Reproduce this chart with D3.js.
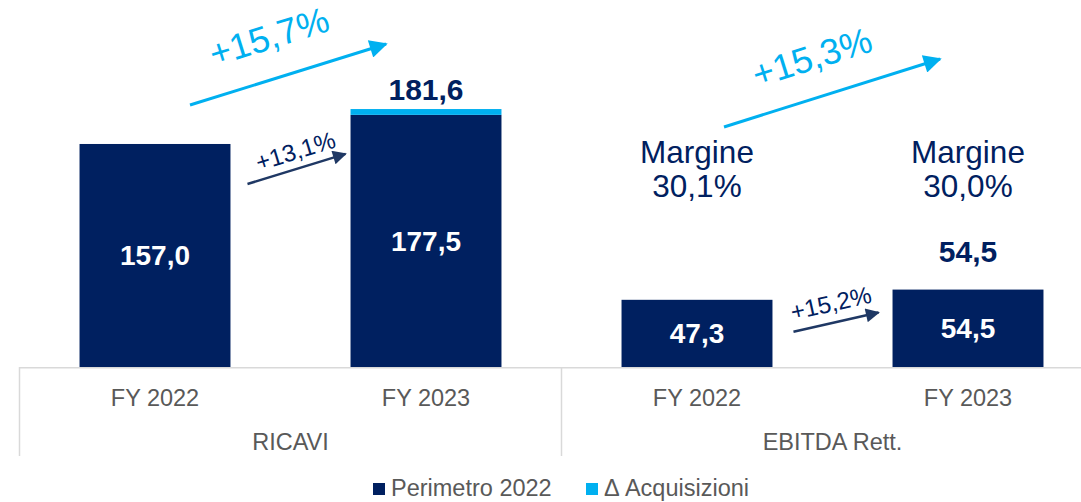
<!DOCTYPE html>
<html>
<head>
<meta charset="utf-8">
<script src="https://cdn.jsdelivr.net/npm/d3@7"></script>
<style>
  body { margin: 0; background: #fff; }
  svg { display: block; font-family: "Liberation Sans", Arial, sans-serif; }
</style>
</head>
<body>
<svg id="chart" width="1081" height="502"></svg>
<script>
// data
const categories = ["FY 2022", "FY 2023", "FY 2022", "FY 2023"];
const groups = ["RICAVI", "EBITDA Rett."];
const perimetro = [157.0, 177.5, 47.3, 54.5];
const acquisizioni = [0, 4.1, 0, 0];
const totalLabels = [null, "181,6", null, "54,5"];
const margins = [null, null, "30,1%", "30,0%"];
const organicGrowth = ["+13,1%", "+15,2%"];
const totalGrowth = ["+15,7%", "+15,3%"];
const seriesNames = ["Perimetro 2022", "\u0394 Acquisizioni"];

const NAVY = "#002060", CYAN = "#00b0f0", ARROW = "#1f3864", GRAY = "#595959", LINE = "#d9d9d9";

const svg = d3.select("#chart");
const base = 367;

const x = d3.scaleBand()
  .domain(d3.range(categories.length))
  .range([19.5, 1103.5])
  .paddingInner(0.443)
  .paddingOuter(0.2215);

const y = d3.scaleLinear()
  .domain([0, 200])
  .range([base, base - 284.1]);

const rows = categories.map((c, i) => ({ i, perimetro: perimetro[i], acquisizioni: acquisizioni[i] }));
const stack = d3.stack().keys(["perimetro", "acquisizioni"])(rows);
const colors = [NAVY, CYAN];

svg.append("defs").selectAll("marker")
  .data([["head-cyan", CYAN], ["head-navy", ARROW]])
  .join("marker")
  .attr("id", d => d[0])
  .attr("viewBox", "0 0 10 10")
  .attr("refX", 9).attr("refY", 5)
  .attr("markerUnits", "userSpaceOnUse")
  .attr("markerWidth", d => d[0] === "head-cyan" ? 22 : 16)
  .attr("markerHeight", d => d[0] === "head-cyan" ? 18 : 14)
  .attr("orient", "auto")
  .append("path")
  .attr("d", "M0,0 L10,5 L0,10 Z")
  .attr("fill", d => d[1]);

// bars
svg.append("g").selectAll("g")
  .data(stack)
  .join("g")
  .attr("fill", (_, k) => colors[k])
  .selectAll("rect")
  .data(d => d.filter(s => s[1] - s[0] > 0))
  .join("rect")
  .attr("x", d => x(d.data.i))
  .attr("width", x.bandwidth())
  .attr("y", d => y(d[1]))
  .attr("height", d => y(d[0]) - y(d[1]));

// axis line and group separators
const axis = svg.append("g").attr("stroke", LINE).attr("stroke-width", 1.5);
axis.append("line")
  .attr("x1", x.range()[0]).attr("x2", x.range()[1])
  .attr("y1", base + 0.75).attr("y2", base + 0.75);
const step = x.step();
axis.selectAll(".sep")
  .data([0, 2, 4])
  .join("line")
  .attr("x1", i => x.range()[0] + i * step)
  .attr("x2", i => x.range()[0] + i * step)
  .attr("y1", base).attr("y2", 456);

// category labels
svg.append("g").selectAll("text")
  .data(categories)
  .join("text")
  .attr("x", (_, i) => x(i) + x.bandwidth() / 2)
  .attr("y", 406)
  .attr("text-anchor", "middle")
  .attr("font-size", 23.5)
  .attr("fill", GRAY)
  .text(d => d);

svg.append("g").selectAll("text")
  .data(groups)
  .join("text")
  .attr("x", (_, g) => x.range()[0] + (g * 2 + 1) * step)
  .attr("y", 450)
  .attr("text-anchor", "middle")
  .attr("font-size", 23.5)
  .attr("fill", GRAY)
  .text(d => d);

// inner values
svg.append("g").selectAll("text")
  .data(perimetro)
  .join("text")
  .attr("x", (_, i) => x(i) + x.bandwidth() / 2)
  .attr("y", d => (y(d) + y(0)) / 2 + 10)
  .attr("text-anchor", "middle")
  .attr("font-size", 28)
  .attr("font-weight", "bold")
  .attr("fill", "#fff")
  .text(d => d3.format(".1f")(d).replace(".", ","));

// totals
const totalGap = [0, 9, 0, 28];
svg.append("g").selectAll("text")
  .data(totalLabels.map((t, i) => ({ t, i })).filter(d => d.t))
  .join("text")
  .attr("x", d => x(d.i) + x.bandwidth() / 2)
  .attr("y", d => y(perimetro[d.i] + acquisizioni[d.i]) - totalGap[d.i])
  .attr("text-anchor", "middle")
  .attr("font-size", 30)
  .attr("font-weight", "bold")
  .attr("fill", NAVY)
  .text(d => d.t);

// margin notes
const mg = svg.append("g").selectAll("text")
  .data(margins.map((m, i) => ({ m, i })).filter(d => d.m))
  .join("text")
  .attr("text-anchor", "middle")
  .attr("font-size", 31.5)
  .attr("fill", NAVY);
mg.append("tspan").attr("x", d => x(d.i) + x.bandwidth() / 2).attr("y", 163).text("Margine");
mg.append("tspan").attr("x", d => x(d.i) + x.bandwidth() / 2).attr("y", 197).text(d => d.m);

// growth arrows
const bw = x.bandwidth();
const barTop = i => y(perimetro[i] + acquisizioni[i]);
const arrows = [
  { label: organicGrowth[0], color: ARROW, head: "head-navy", size: 24, w: 2.5,
    x1: x(0) + bw + 17, y1: y(perimetro[0]) + 40, x2: x(1) - 5, y2: y(perimetro[1]) + 39, tdx: -1, tdy: -18 },
  { label: organicGrowth[1], color: ARROW, head: "head-navy", size: 24, w: 2.5,
    x1: x(2) + bw + 21, y1: y(perimetro[2]) + 32, x2: x(3) - 14, y2: y(perimetro[3]) + 23, tdx: -5, tdy: -19 },
  { label: totalGrowth[0], color: CYAN, head: "head-cyan", size: 36, w: 3,
    x1: x(0) + bw / 2 + 35, y1: barTop(0) - 39, x2: x(1) + bw / 2 - 40, y2: barTop(1) - 65, tdx: -19, tdy: -38 },
  { label: totalGrowth[1], color: CYAN, head: "head-cyan", size: 36, w: 3,
    x1: x(2) + bw / 2 + 27, y1: 127, x2: x(3) + bw / 2 - 28, y2: 59, tdx: -20, tdy: -36 }
];

const ag = svg.append("g").selectAll("g").data(arrows).join("g");
ag.append("line")
  .attr("x1", d => d.x1).attr("y1", d => d.y1)
  .attr("x2", d => d.x2).attr("y2", d => d.y2)
  .attr("stroke", d => d.color)
  .attr("stroke-width", d => d.w)
  .attr("marker-end", d => `url(#${d.head})`);
ag.append("text")
  .attr("transform", d => {
    const a = Math.atan2(d.y2 - d.y1, d.x2 - d.x1) * 180 / Math.PI;
    return `translate(${(d.x1 + d.x2) / 2 + d.tdx},${(d.y1 + d.y2) / 2 + d.tdy}) rotate(${a})`;
  })
  .attr("text-anchor", "middle")
  .attr("dy", "0.35em")
  .attr("font-size", d => d.size)
  .attr("fill", d => d.color === CYAN ? CYAN : NAVY)
  .text(d => d.label);

// legend
const legendX = [373, 586];
const lg = svg.append("g").selectAll("g")
  .data(seriesNames)
  .join("g")
  .attr("transform", (_, k) => `translate(${legendX[k]},483)`);
lg.append("rect").attr("width", 12).attr("height", 12).attr("fill", (_, k) => colors[k]);
lg.append("text")
  .attr("x", 18).attr("y", 13)
  .attr("font-size", 23.5)
  .attr("fill", GRAY)
  .text(d => d);
</script>
</body>
</html>
